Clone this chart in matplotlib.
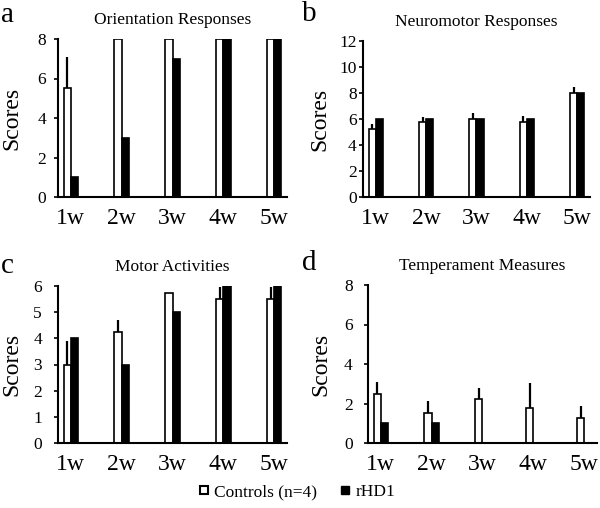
import numpy as np
from matplotlib import pyplot as plt
from matplotlib.lines import Line2D

plt.rcParams['font.family'] = ['Liberation Serif', 'DejaVu Serif']

weeks = ['1w', '2w', '3w', '4w', '5w']

# a - orientation responses
orient_ctrl = [5.5, 8, 8, 8, 8]
orient_ctrl_err = [1.6, 0, 0, 0, 0]
orient_rhd = [1, 3, 7, 8, 8]

# b - neuromotor responses
neuro_ctrl = [5.25, 5.75, 6, 5.75, 8]
neuro_ctrl_err = [0.4, 0.4, 0.45, 0.5, 0.5]
neuro_rhd = [6, 6, 6, 6, 8]

# c - motor activities
motor_ctrl = [3, 4.25, 5.75, 5.5, 5.5]
motor_ctrl_err = [0.9, 0.45, 0, 0.45, 0.45]
motor_rhd = [4, 3, 5, 6, 6]

# d - temperament measures
temper_ctrl = [2.5, 1.5, 2.25, 1.75, 1.25]
temper_ctrl_err = [0.6, 0.65, 0.55, 1.3, 0.6]
temper_rhd = [1, 1, 0, 0, 0]

# letter, title, data, ymax, step, axes box (px: left, top, width, height),
# y tick pad, ylabel x, letter position (px)
panels = [
    ('a', 'Orientation Responses', orient_ctrl, orient_ctrl_err, orient_rhd, 8, 2,
     [58, 39, 229, 158], 5.5, -0.157, (1, 15)),
    ('b', 'Neuromotor Responses', neuro_ctrl, neuro_ctrl_err, neuro_rhd, 12, 2,
     [363, 41, 227, 156], 1.5, -0.145, (302, 14)),
    ('c', 'Motor Activities', motor_ctrl, motor_ctrl_err, motor_rhd, 6, 1,
     [58, 286, 229, 157], 8.5, -0.157, (1, 266)),
    ('d', 'Temperament Measures', temper_ctrl, temper_ctrl_err, temper_rhd, 8, 2,
     [368, 285, 229, 158], 8, -0.162, (302, 263)),
]

W, H = 600, 508
fig = plt.figure(figsize=(6, 5.08), dpi=100)

x = np.arange(len(weeks))
w = 0.14
for letter, title, ctrl, err, rhd, ymax, step, box, pad, labx, lpos in panels:
    l, t, bw, bh = box
    ax = fig.add_axes([l / W, 1 - (t + bh) / H, bw / W, bh / H])
    ax.bar(x - w / 2, ctrl, w, color='white', edgecolor='black', linewidth=1.2, zorder=2)
    ax.bar(x + w / 2, rhd, w, color='black', edgecolor='black', linewidth=1.2, zorder=2)
    ax.errorbar(x - w / 2, ctrl, yerr=[np.zeros(len(ctrl)), err], fmt='none',
                ecolor='black', elinewidth=1.6, capsize=0, zorder=1)
    ax.set_xlim(-0.25, 4.25)
    ax.set_ylim(0, ymax)
    ax.set_yticks(np.arange(0, ymax + 0.1, step))
    ax.set_xticks(x)
    ax.set_xticklabels(weeks, fontsize=17)
    ax.tick_params(axis='x', length=0, pad=8)
    ax.tick_params(axis='y', length=3, width=1.2, labelsize=12.5, pad=pad)
    for s in ['top', 'right']:
        ax.spines[s].set_visible(False)
    for s in ['left', 'bottom']:
        ax.spines[s].set_linewidth(1.5)
    ax.set_ylabel('Scores', fontsize=17)
    ax.yaxis.set_label_coords(labx, 0.5)
    ax.set_title(title, fontsize=12.5, pad=11)
    fig.text(lpos[0] / W, 1 - lpos[1] / H, letter, fontsize=21, va='center', ha='left')

handles = [
    Line2D([], [], marker='s', linestyle='none', markersize=6, markerfacecolor='white',
           markeredgecolor='black', markeredgewidth=1.5),
    Line2D([], [], marker='s', linestyle='none', markersize=6, markerfacecolor='black',
           markeredgecolor='black'),
]
fig.legend(handles, ['Controls (n=4)', 'rHD1'], loc='center', ncol=2, frameon=False,
           bbox_to_anchor=(0.495, 1 - 492 / H), fontsize=12.5, handlelength=0.6,
           handletextpad=0.3, columnspacing=1.3)

fig.savefig('out.png', dpi=100)
